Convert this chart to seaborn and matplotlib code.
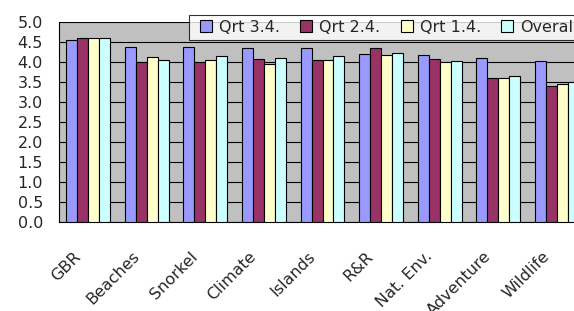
import numpy as np
import pandas as pd
import matplotlib
matplotlib.use("Agg")
import matplotlib.pyplot as plt
import matplotlib.transforms as mtransforms
from matplotlib.lines import Line2D
import seaborn as sns

categories = ["GBR", "Beaches", "Snorkel", "Climate", "Islands", "R&R",
              "Nat. Env.", "Adventure", "Wildlife"]
series = ["Qrt 3.4.", "Qrt 2.4.", "Qrt 1.4.", "Overall"]
qrt34 = [4.56, 4.37, 4.37, 4.34, 4.35, 4.20, 4.17, 4.09, 4.02]
qrt24 = [4.59, 3.99, 4.01, 4.08, 4.04, 4.35, 4.07, 3.60, 3.39]
qrt14 = [4.59, 4.12, 4.04, 3.94, 4.04, 4.17, 3.99, 3.60, 3.45]
overall = [4.59, 4.04, 4.16, 4.11, 4.14, 4.22, 4.02, 3.65, 3.50]
colors = ["#9999FF", "#993366", "#FFFFCC", "#CCFFFF"]
yticks = np.arange(0, 5.01, 0.5)

df = pd.DataFrame({
    "category": categories * 4,
    "series": np.repeat(series, len(categories)),
    "value": qrt34 + qrt24 + qrt14 + overall,
})

sns.set_style("white")
plt.rcParams["font.family"] = ["DejaVu Sans"]

fig = plt.figure(figsize=(5.74, 3.11), dpi=100)
W, H = 574, 311
ax = fig.add_axes([59 / W, (H - 222) / H, 527 / W, 200 / H])
ax.set_facecolor("#C0C0C0")

sns.barplot(data=df, x="category", y="value", hue="series", order=categories,
            hue_order=series, palette=colors, width=0.75, edgecolor="black",
            linewidth=0.8, saturation=1, ax=ax, legend=False, zorder=3)

ax.set_xlim(-0.5, len(categories) - 0.5)
ax.set_ylim(0, 5)
ax.set_yticks(yticks)
ax.set_yticklabels([f"{v:.1f}" for v in yticks], fontsize=11.5)
ax.yaxis.grid(True, color="black", linewidth=0.8, zorder=0)
ax.set_axisbelow(True)
ax.set_xlabel("")
ax.set_ylabel("")

# category boundary ticks (visible), labels at centres
ax.set_xticks(np.arange(-0.5, len(categories), 1.0), minor=True)
ax.tick_params(axis="x", which="minor", length=4.5, width=0.8, color="black", direction="out")
ax.tick_params(axis="x", which="major", length=0, pad=23)
ax.tick_params(axis="y", length=4.5, width=0.8, color="black", direction="out", pad=7)
ax.set_xticks(range(len(categories)))
ax.set_xticklabels(categories, rotation=45, ha="right", va="center",
                   rotation_mode="anchor", fontsize=11.5)
offset = mtransforms.ScaledTranslation(-10 / 100, 0, fig.dpi_scale_trans)
for lab in ax.get_xticklabels():
    lab.set_transform(lab.get_transform() + offset)

for side in ["top", "right"]:
    ax.spines[side].set_visible(False)
for side in ["left", "bottom"]:
    ax.spines[side].set_color("black")
    ax.spines[side].set_linewidth(0.8)

handles = [Line2D([], [], linestyle="none", marker="s", markersize=8,
                  markerfacecolor=c, markeredgecolor="black", markeredgewidth=0.8)
           for c in colors]
leg = fig.legend(handles, series, loc="upper left", bbox_to_anchor=(189 / W, 1 - 15 / H),
                 ncol=4, fontsize=11.5, frameon=True, fancybox=False, shadow=False,
                 handlelength=1.55, handletextpad=0.05,
                 columnspacing=0.85, borderpad=0.3, borderaxespad=0)
leg.get_frame().set_edgecolor("black")
leg.get_frame().set_linewidth(0.8)

fig.savefig("out.png", dpi=100)
